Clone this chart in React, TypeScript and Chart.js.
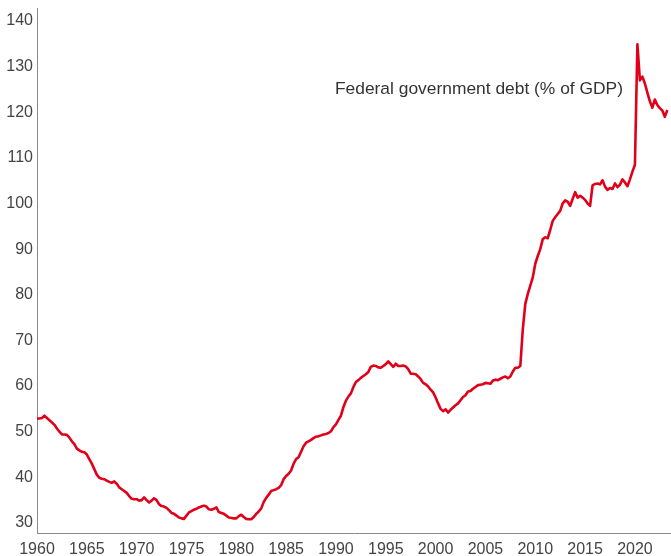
import React, { useEffect, useRef } from "react";
import { Chart, registerables } from "chart.js";

Chart.register(...registerables);

// Quarterly federal government debt, % of GDP, starting 1960 Q1
const START_YEAR = 1960;
const debtPct: number[] = [
  // 1960
  52.9, 52.9, 53.0, 53.5,
  // 1961
  53.0, 52.5, 52.0, 51.5,
  // 1962
  50.7, 50.0, 49.4, 49.4,
  // 1963
  49.3, 48.7, 47.9, 47.3,
  // 1964
  46.3, 45.9, 45.6, 45.5,
  // 1965
  45.0, 44.0, 43.0, 41.8,
  // 1966
  40.6, 39.9, 39.7, 39.6,
  // 1967
  39.3, 39.0, 38.8, 39.1,
  // 1968
  38.6, 37.8, 37.4, 37.0,
  // 1969
  36.6, 35.9, 35.3, 35.2,
  // 1970
  35.2, 34.9, 35.0, 35.6,
  // 1971
  35.0, 34.5, 34.9, 35.4,
  // 1972
  35.0, 34.1, 33.7, 33.6,
  // 1973
  33.3, 32.8, 32.2, 32.0,
  // 1974
  31.6, 31.2, 31.0, 30.9,
  // 1975
  31.6, 32.3, 32.6, 32.9,
  // 1976
  33.1, 33.4, 33.6, 33.8,
  // 1977
  33.6, 33.0, 32.9, 33.1,
  // 1978
  33.4, 32.4, 32.2, 32.0,
  // 1979
  31.6, 31.2, 31.1, 31.0,
  // 1980
  31.0, 31.5, 31.8, 31.3,
  // 1981
  30.9, 30.8, 30.8, 31.3,
  // 1982
  32.0, 32.5, 33.2, 34.6,
  // 1983
  35.5, 36.2, 37.0, 37.2,
  // 1984
  37.4, 37.7, 38.3, 39.6,
  // 1985
  40.3, 40.8, 41.5, 43.0,
  // 1986
  44.0, 44.4, 45.6, 46.8,
  // 1987
  47.6, 47.9, 48.2, 48.6,
  // 1988
  48.9, 49.0, 49.2, 49.4,
  // 1989
  49.5, 49.7, 50.1, 51.0,
  // 1990
  51.6, 52.6, 53.5, 55.4,
  // 1991
  56.8, 57.7, 58.4, 59.8,
  // 1992
  60.9, 61.3, 61.8, 62.2,
  // 1993
  62.6, 63.1, 64.2, 64.5,
  // 1994
  64.4, 64.1, 64.0, 64.4,
  // 1995
  64.8, 65.4, 64.8, 64.2,
  // 1996
  64.9, 64.4, 64.4, 64.5,
  // 1997
  64.3, 63.7, 62.7, 62.7,
  // 1998
  62.6, 62.1, 61.5, 60.7,
  // 1999
  60.4, 59.9, 59.2, 58.6,
  // 2000
  57.5, 56.2, 55.0, 54.5,
  // 2001
  54.9, 54.2, 54.8, 55.3,
  // 2002
  55.8, 56.2, 56.9, 57.6,
  // 2003
  58.0, 58.8, 58.9, 59.4,
  // 2004
  59.8, 60.2, 60.3, 60.4,
  // 2005
  60.7, 60.6, 60.5, 61.2,
  // 2006
  61.4, 61.3, 61.6, 61.9,
  // 2007
  62.1, 61.7, 62.1, 63.2,
  // 2008
  64.0, 64.0, 64.4, 72.5,
  // 2009
  78.0, 80.2, 82.0, 83.8,
  // 2010
  86.8, 88.5, 90.0, 92.2,
  // 2011
  92.6, 92.4, 94.2, 96.2,
  // 2012
  97.0, 97.7, 98.4, 100.0,
  // 2013
  100.7, 100.4, 99.5, 101.0,
  // 2014
  102.5, 101.3, 101.7, 101.3,
  // 2015
  100.8, 100.0, 99.5, 104.0,
  // 2016
  104.3, 104.4, 104.2, 105.1,
  // 2017
  103.7, 103.0, 103.4, 103.2,
  // 2018
  104.4, 103.6, 104.1, 105.3,
  // 2019
  104.6, 103.8, 105.3, 107.0,
  // 2020
  108.5, 134.9, 127.0, 127.8,
  // 2021
  126.3, 124.3, 122.4, 121.0,
  // 2022
  122.8, 121.6, 120.9, 120.4,
  // 2023
  119.0, 120.5,
];

const xTickYears = [1960, 1965, 1970, 1975, 1980, 1985, 1990, 1995, 2000, 2005, 2010, 2015, 2020];
const yTickValues = [30, 40, 50, 60, 70, 80, 90, 100, 110, 120, 130, 140];
const seriesLabel = "Federal government debt (% of GDP)";

const X_MIN = 1960;
const X_MAX = 2023.62;
const Y_MIN = 27.8;
const Y_MAX = 142.85;
const LABEL_ANCHOR_X = 2018.8;
const LABEL_ANCHOR_Y = 124.0;

const FONT_FAMILY = '"Liberation Sans", Arial, Helvetica, sans-serif';

export default function App() {
  const canvasRef = useRef<HTMLCanvasElement | null>(null);

  useEffect(() => {
    const canvas = canvasRef.current;
    if (!canvas) return;

    const points = debtPct.map((v, i) => ({ x: START_YEAR + i / 4, y: v }));

    const labelPlugin = {
      id: "seriesLabel",
      afterDatasetsDraw(chart: any) {
        const { ctx, scales } = chart;
        const px = scales.x.getPixelForValue(LABEL_ANCHOR_X);
        const py = scales.y.getPixelForValue(LABEL_ANCHOR_Y);
        ctx.save();
        ctx.font = `17.4px ${FONT_FAMILY}`;
        ctx.fillStyle = "#333333";
        ctx.textAlign = "right";
        ctx.textBaseline = "alphabetic";
        ctx.fillText(seriesLabel, px, py);
        ctx.restore();
      },
    };

    const chart = new Chart(canvas, {
      type: "line",
      data: {
        datasets: [
          {
            label: seriesLabel,
            data: points,
            borderColor: "#e0001a",
            backgroundColor: "#e0001a",
            borderWidth: 2.6,
            pointRadius: 0,
            pointHoverRadius: 0,
            tension: 0,
            fill: false,
            borderJoinStyle: "round",
          },
        ],
      },
      options: {
        responsive: false,
        animation: false,
        devicePixelRatio: 1,
        layout: { padding: { top: 8, right: 0, bottom: 0, left: 0 } },
        plugins: {
          legend: { display: false },
          tooltip: { enabled: false },
        },
        scales: {
          x: {
            type: "linear",
            min: X_MIN,
            max: X_MAX,
            grid: { display: false, drawTicks: false },
            border: { display: true, color: "#8a8a8a", width: 1 },
            ticks: {
              color: "#444444",
              font: { family: FONT_FAMILY, size: 16 },
              padding: 7,
              maxRotation: 0,
              autoSkip: false,
              callback: (v: any) => String(v),
            },
            afterBuildTicks: (scale: any) => {
              scale.ticks = xTickYears.map((v) => ({ value: v }));
            },
            afterFit: (scale: any) => {
              scale.height = 23;
              scale.paddingLeft = 0;
              scale.paddingRight = 0;
            },
          },
          y: {
            type: "linear",
            min: Y_MIN,
            max: Y_MAX,
            grid: { display: false, drawTicks: false },
            border: { display: true, color: "#8a8a8a", width: 1 },
            ticks: {
              color: "#444444",
              font: { family: FONT_FAMILY, size: 16 },
              padding: 4,
              autoSkip: false,
              callback: (v: any) => String(v),
            },
            afterBuildTicks: (scale: any) => {
              scale.ticks = yTickValues.map((v) => ({ value: v }));
            },
            afterFit: (scale: any) => {
              scale.width = 37;
              scale.paddingTop = 0;
              scale.paddingBottom = 0;
            },
          },
        },
      },
      plugins: [labelPlugin],
    });

    return () => {
      chart.destroy();
    };
  }, []);

  return (
    <div style={{ position: "absolute", left: 0, top: 0, width: 671, height: 556, background: "#ffffff" }}>
      <canvas ref={canvasRef} width={671} height={556} style={{ display: "block", width: 671, height: 556 }} />
    </div>
  );
}
